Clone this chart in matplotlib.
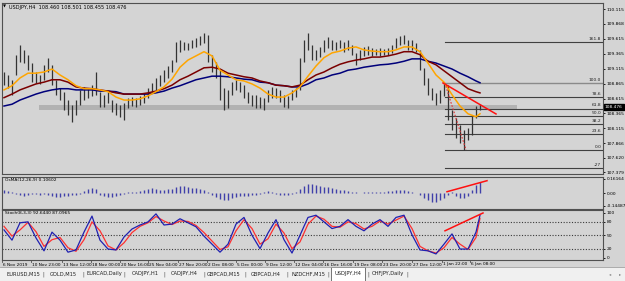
import matplotlib
matplotlib.use('Agg')
import matplotlib.pyplot as plt
import numpy as np

# USDJPY H4 bars (one bar per two H4 candles), high / low
highs = [109.06, 109.01, 108.93, 109.35, 109.51, 109.43, 109.35, 109.21, 109.06, 109.01,
         109.18, 109.30, 109.18, 108.93, 108.79, 108.73, 108.59, 108.51, 108.59, 108.76,
         108.81, 108.79, 108.84, 109.06, 108.73, 108.68, 108.73, 108.59, 108.54, 108.51,
         108.54, 108.63, 108.64, 108.63, 108.66, 108.71, 108.79, 108.88, 108.96, 109.01,
         109.09, 109.16, 109.26, 109.56, 109.60, 109.56, 109.55, 109.60, 109.63, 109.66,
         109.71, 109.68, 109.35, 109.23, 109.09, 108.79, 108.76, 108.89, 108.93, 108.89,
         108.84, 108.73, 108.68, 108.68, 108.64, 108.63, 108.76, 108.81, 108.79, 108.76,
         108.68, 108.66, 108.76, 108.79, 109.30, 109.60, 109.71, 109.51, 109.43, 109.48,
         109.60, 109.65, 109.60, 109.56, 109.60, 109.56, 109.60, 109.51, 109.38, 109.43,
         109.48, 109.50, 109.46, 109.45, 109.46, 109.45, 109.46, 109.51, 109.63, 109.66,
         109.68, 109.60, 109.60, 109.55, 109.43, 109.13, 108.96, 108.79, 108.71, 108.76,
         108.88, 108.84, 108.42, 108.29, 108.17, 108.09, 108.12, 108.34, 108.49, 108.52]
lows = [108.84, 108.79, 108.68, 109.01, 109.23, 109.21, 109.09, 108.89, 108.88, 108.86,
        108.93, 109.06, 108.84, 108.68, 108.59, 108.42, 108.34, 108.22, 108.34, 108.51,
        108.59, 108.63, 108.66, 108.68, 108.47, 108.47, 108.54, 108.39, 108.34, 108.31,
        108.26, 108.46, 108.49, 108.47, 108.51, 108.54, 108.63, 108.71, 108.76, 108.83,
        108.89, 108.96, 109.06, 109.23, 109.40, 109.43, 109.43, 109.46, 109.48, 109.51,
        109.55, 109.23, 109.06, 108.96, 108.59, 108.42, 108.46, 108.68, 108.76, 108.73,
        108.63, 108.54, 108.49, 108.46, 108.46, 108.42, 108.56, 108.63, 108.63, 108.56,
        108.47, 108.46, 108.59, 108.64, 108.76, 109.23, 109.43, 109.26, 109.26, 109.31,
        109.40, 109.46, 109.43, 109.43, 109.46, 109.40, 109.43, 109.35, 109.18, 109.26,
        109.33, 109.35, 109.33, 109.35, 109.33, 109.35, 109.35, 109.38, 109.46, 109.51,
        109.53, 109.43, 109.43, 109.40, 109.09, 108.84, 108.68, 108.59, 108.51, 108.54,
        108.66, 108.26, 108.09, 107.96, 107.87, 107.76, 107.92, 108.01, 108.29, 108.42]

# moving averages, sampled every second bar (+ last bar)
ma_orange = [108.76, 108.83, 108.96, 109.04, 109.04, 109.06, 109.11, 109.01, 108.93, 108.83,
             108.78, 108.78, 108.76, 108.73, 108.64, 108.59, 108.59, 108.61, 108.66, 108.73,
             108.81, 108.94, 109.14, 109.26, 109.33, 109.40, 109.33, 109.09, 109.01, 108.93,
             108.91, 108.86, 108.79, 108.69, 108.64, 108.64, 108.71, 108.81, 108.99, 109.16,
             109.30, 109.38, 109.41, 109.46, 109.48, 109.43, 109.41, 109.40, 109.40, 109.43,
             109.48, 109.48, 109.40, 109.21, 109.01, 108.89, 108.68, 108.49, 108.36, 108.31,
             108.36]
ma_red = [108.63, 108.69, 108.76, 108.81, 108.86, 108.89, 108.93, 108.93, 108.89, 108.81,
          108.79, 108.78, 108.76, 108.74, 108.71, 108.69, 108.69, 108.69, 108.71, 108.74,
          108.78, 108.84, 108.93, 108.99, 109.06, 109.13, 109.14, 109.11, 109.04, 109.01,
          108.98, 108.96, 108.91, 108.88, 108.84, 108.83, 108.81, 108.84, 108.93, 109.01,
          109.06, 109.13, 109.19, 109.23, 109.26, 109.28, 109.31, 109.31, 109.33, 109.36,
          109.40, 109.40, 109.35, 109.24, 109.18, 109.08, 108.98, 108.88, 108.78, 108.73,
          108.71]
ma_navy = [108.49, 108.52, 108.59, 108.64, 108.69, 108.73, 108.76, 108.78, 108.78, 108.76,
           108.76, 108.76, 108.74, 108.74, 108.73, 108.69, 108.69, 108.69, 108.69, 108.71,
           108.74, 108.79, 108.83, 108.88, 108.93, 108.96, 108.99, 108.99, 108.98, 108.96,
           108.94, 108.93, 108.89, 108.88, 108.84, 108.83, 108.81, 108.81, 108.86, 108.93,
           108.96, 109.01, 109.04, 109.09, 109.11, 109.14, 109.16, 109.18, 109.19, 109.21,
           109.24, 109.28, 109.28, 109.24, 109.21, 109.16, 109.11, 109.04, 108.98, 108.91,
           108.88]

osma = [0.034, 0.023, 0.011, -0.011, -0.023, -0.034, -0.023, -0.011, -0.011, -0.023,
        -0.011, -0.023, -0.034, -0.046, -0.046, -0.034, -0.034, -0.023, -0.023, -0.011,
        0.023, 0.046, 0.057, 0.046, -0.023, -0.034, -0.046, -0.046, -0.034, -0.023,
        -0.011, 0.011, 0.011, 0.011, 0.023, 0.034, 0.046, 0.057, 0.046, 0.034,
        0.034, 0.046, 0.046, 0.068, 0.080, 0.080, 0.068, 0.057, 0.057, 0.046,
        0.034, 0.011, -0.023, -0.046, -0.068, -0.080, -0.080, -0.057, -0.046, -0.034,
        -0.034, -0.034, -0.023, -0.023, -0.011, 0.011, 0.023, 0.011, -0.011, -0.023,
        -0.023, -0.023, -0.011, 0.011, 0.046, 0.080, 0.103, 0.103, 0.091, 0.080,
        0.068, 0.068, 0.057, 0.046, 0.034, 0.034, 0.023, 0.011, 0.011, 0.003,
        0.011, 0.011, 0.011, 0.011, 0.011, 0.011, 0.023, 0.023, 0.034, 0.034,
        0.034, 0.023, 0.011, -0.003, -0.023, -0.057, -0.080, -0.103, -0.103, -0.080,
        -0.057, -0.023, 0.011, -0.034, -0.057, -0.057, -0.034, 0.034, 0.091, 0.125]

stoch_main = [62, 39, 78, 80, 44, 15, 57, 39, 12, 17, 57, 93, 39, 19, 17, 46, 64, 73, 80, 98,
              73, 75, 87, 78, 69, 48, 30, 12, 30, 75, 90, 50, 20, 55, 85, 40, 10, 50, 90, 95,
              80, 65, 70, 85, 70, 60, 75, 85, 70, 90, 95, 51, 17, 15, 8, 30, 53, 19, 19, 57,
              95]
stoch_signal = [70, 48, 62, 79, 58, 25, 40, 45, 22, 14, 40, 80, 60, 26, 17, 33, 56, 70, 78, 92,
                82, 74, 82, 81, 72, 56, 37, 18, 24, 60, 85, 65, 30, 42, 75, 55, 20, 35, 75, 93,
                86, 70, 68, 80, 76, 64, 70, 82, 75, 84, 93, 65, 25, 15, 10, 22, 45, 30, 18, 45,
                88]

price_ticks = [110.115, 109.868, 109.615, 109.365, 109.115, 108.865, 108.615, 108.365,
               108.115, 107.866, 107.620, 107.379]
fib_levels = [161.8, 100.0, 78.6, 61.8, 50.0, 38.2, 23.6, 0.0, -27]
fib_low, fib_high = 107.754, 108.876
zone_low, zone_high = 108.42, 108.50
last_price = 108.476

date_labels = ['6 Nov 2019', '10 Nov 23:00', '13 Nov 12:00', '18 Nov 00:00', '20 Nov 16:00',
               '25 Nov 04:00', '27 Nov 20:00', '2 Dec 08:00', '5 Dec 00:00', '9 Dec 12:00',
               '12 Dec 04:00', '16 Dec 16:00', '19 Dec 08:00', '23 Dec 20:00', '27 Dec 12:00',
               '1 Jan 22:00', '6 Jan 08:00']
date_pos = [-0.5, 6.75, 14.5, 21.75, 29, 36, 43.5, 50.75, 58, 65.25, 72.5, 79.75, 87.25,
            94.5, 102, 109.5, 116.5]

tabs = ['EURUSD,M15', 'GOLD,M15', 'EURCAD,Daily', 'CADJPY,H1', 'CADJPY,H4', 'GBPCAD,M15',
        'GBPCAD,H4', 'NZDCHF,M15', 'USDJPY,H4', 'CHFJPY,Daily']
tab_x = [23, 63, 104, 145, 184, 224, 266, 308, 348, 388]

W, H = 625, 281
BG = '#d4d4d4'
FRAME = '#505050'
FS = 3.2
plt.rcParams['font.family'] = ['DejaVu Sans']

fig = plt.figure(figsize=(W / 100, H / 100), dpi=100)
fig.patch.set_facecolor(BG)


def box(x0, y0, x1, y1):
    return [x0 / W, 1 - y1 / H, (x1 - x0) / W, (y1 - y0) / H]


def ftext(x, y, s, **kw):
    kw.setdefault('fontsize', FS)
    kw.setdefault('va', 'center')
    return fig.text(x / W, 1 - y / H, s, **kw)


XL = (-0.5, 149.75)
ax_p = fig.add_axes(box(2, 3, 603, 174))
ax_o = fig.add_axes(box(2, 177, 603, 209))
ax_s = fig.add_axes(box(2, 210, 603, 260))
for ax in (ax_p, ax_o, ax_s):
    ax.set_facecolor(BG)
    ax.set_xlim(*XL)
    ax.set_xticks([])
    ax.yaxis.tick_right()
    ax.tick_params(axis='y', length=1.5, width=0.6, pad=1.0, labelsize=FS, colors='black')
    for sp in ax.spines.values():
        sp.set_color(FRAME)
        sp.set_linewidth(0.8)

xs = np.arange(len(highs))
ma_x = list(range(0, len(highs), 2)) + [len(highs) - 1]

# price panel
ax_p.set_ylim(107.351, 110.216)
ax_p.axhspan(zone_low, zone_high, xmin=(8.75 - XL[0]) / (XL[1] - XL[0]),
             xmax=(128.25 - XL[0]) / (XL[1] - XL[0]), color='#b2b2b2', lw=0, zorder=1)
fx0 = (110.25 - XL[0]) / (XL[1] - XL[0])
for lv in fib_levels:
    p = fib_low + (fib_high - fib_low) * lv / 100
    col = '#8a8a8a' if lv == 100.0 else '#404040'
    ax_p.axhline(p, xmin=fx0, xmax=1, color=col, lw=1.0 if lv == 100.0 else 0.8, zorder=2)
    lab = '-27' if lv == -27 else f'{lv:.1f}'
    ax_p.text(149.3, p + 0.018, lab, fontsize=FS, ha='right', va='bottom', color='#202020')
ax_p.vlines(xs, lows, highs, color='#333333', lw=0.9, zorder=3)
ax_p.plot(ma_x, ma_navy, color='#00007a', lw=1.1, zorder=4)
ax_p.plot(ma_x, ma_red, color='#7a0000', lw=1.1, zorder=4)
ax_p.plot(ma_x, ma_orange, color='#ffa500', lw=1.1, zorder=4)
ax_p.plot([109.75, 123], [108.876, 108.357], color='#ff1010', lw=1.1, zorder=5)
ax_p.plot([110.2, 115.5], [108.876, 107.754], color='#e03030', lw=0.8, ls=(0, (1.5, 1.5)), zorder=5)
ax_p.set_yticks(price_ticks)
ax_p.set_yticklabels([f'{v:.3f}' for v in price_ticks])
ftext(605, 107, f'{last_price:.3f}', color='white', fontsize=FS,
      bbox=dict(boxstyle='square,pad=0.15', fc='black', ec='black'))
ftext(3, 7, '\u25bc', fontsize=2.8)
ftext(9, 7, 'USDJPY,H4  108.460 108.501 108.455 108.476', fontsize=3.6)

# OsMA panel
ax_o.set_ylim(-0.179, 0.184)
ax_o.vlines(xs, 0, osma, color='#4040aa', lw=1.0)
ax_o.plot([110.75, 120.75], [0.017, 0.142], color='#ff1010', lw=1.1)
ax_o.set_yticks([0.16164, 0.0, -0.14487])
ax_o.set_yticklabels(['0.16164', '0.00', '-0.14487'])
ax_o.text(0.3, 0.17, 'OsMA(12,26,9) 0.10602', fontsize=FS, va='top')

# Stochastic panel
ax_s.set_ylim(-5.6, 106.7)
for lv in (80, 50, 20):
    ax_s.axhline(lv, color='#3a3a3a', lw=0.8, ls=(0, (1, 1.5)))
ax_s.plot(ma_x, stoch_signal, color='#ff3030', lw=0.9)
ax_s.plot(ma_x, stoch_main, color='#2020b0', lw=0.9)
ax_s.plot([110.25, 119.75], [60, 100], color='#ff1010', lw=1.1)
ax_s.set_yticks([100, 80, 50, 20, 0])
ax_s.set_yticklabels(['100', '80', '50', '20', '0'])
ax_s.text(0.3, 104, 'Stoch(8,3,3) 92.6440 87.0965', fontsize=FS, va='top')

# date axis
for lab, pos in zip(date_labels, date_pos):
    px = 4 + 4 * pos
    ftext(px + 1, 264.5, lab, ha='left', fontsize=3.1)
    fig.add_artist(plt.Line2D([px / W, px / W], [1 - 260 / H, 1 - 262 / H],
                              color=FRAME, lw=0.6))

# tab bar
fig.add_artist(plt.Rectangle((0, 0), 1, 1 - 267 / H, transform=fig.transFigure,
                             fc='#f0f0f0', ec='none'))
fig.add_artist(plt.Line2D([0, 1], [1 - 267 / H] * 2, color='#a0a0a0', lw=0.6))
fig.add_artist(plt.Rectangle((331 / W, 1 - 281 / H), 34 / W, 14 / H, transform=fig.transFigure,
                             fc='white', ec='#606060', lw=0.6))
for i, (t, x) in enumerate(zip(tabs, tab_x)):
    ftext(x, 274, t, ha='center', color='#202020', fontsize=3.7)
    sep = x + (tab_x[i + 1] - x) / 2 if i + 1 < len(tab_x) else 407
    ftext(sep, 274, '|', ha='center', color='#404040', fontsize=3.7)
ftext(610, 274, '\u25c2', ha='center', color='#808080')
ftext(620, 274, '\u25b8', ha='center', color='#808080')

fig.savefig('out.png', dpi=100, facecolor=BG)
